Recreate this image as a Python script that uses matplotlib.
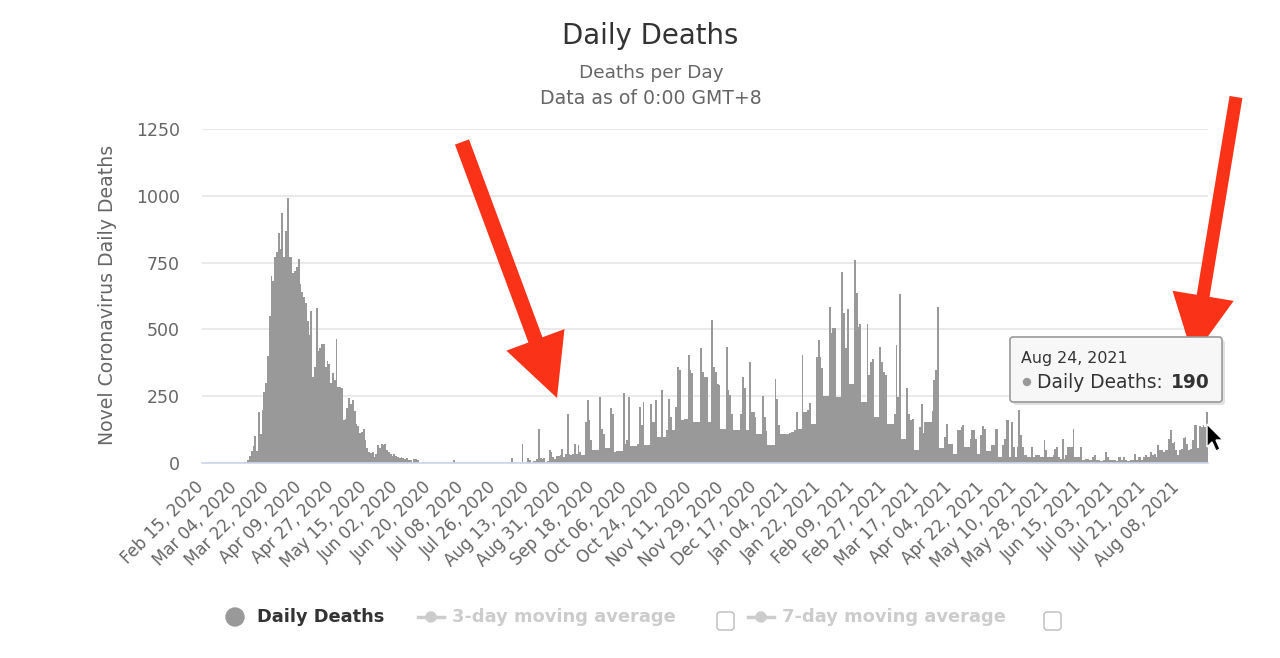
import matplotlib
matplotlib.use("Agg")
import matplotlib.pyplot as plt
import matplotlib.patches as mpatches
from matplotlib.transforms import Affine2D, ScaledTranslation
import pandas as pd

# ---------------- data ----------------
deaths = [
    0, 0, 0, 0, 0, 0, 0, 0, 0, 0, 0, 0, 0, 0, 0, 0, 0, 0, 0, 0, 0, 0, 0,
    5, 2, 10, 25, 45, 65, 100, 45, 190, 110,
    200, 265, 300, 400, 550, 700, 680, 770, 790, 860,
    800, 935, 770, 870, 990, 770, 770, 710, 720, 735,
    765, 670, 640, 620, 600, 530, 480, 570, 320, 360,
    580, 420, 430, 445, 445, 360, 380, 370, 300, 335,
    310, 465, 285, 285, 280, 160, 165, 205, 245, 222,
    235, 195, 145, 140, 112, 115, 128, 85, 55, 42,
    36, 40, 22, 35, 66, 55, 72, 66, 72, 47,
    40, 35, 28, 35, 28, 22, 20, 22, 20, 16,
    20, 12, 10, 4, 16, 16, 10,
    0, 0, 0, 0, 0, 0, 0, 0, 0, 0, 0, 0, 0, 0, 0, 0, 0, 0, 0,
    12,
    0, 0, 0, 0, 0, 0, 0, 0, 0, 0, 0, 0, 0, 0, 0, 0, 0, 0, 0, 0,
    0, 0, 0, 0, 0, 0, 0, 0, 0, 0, 0,
    20, 0, 0, 0, 0, 0, 70, 0, 0,
    17, 10, 0, 8, 8, 15, 129, 18, 15, 20, 5, 8,
    47, 41, 22, 16, 25, 25, 29, 54, 22, 35,
    185, 32, 29, 32, 72, 32, 66, 41, 29, 29,
    154, 237, 160, 85, 50, 50, 50, 50, 247, 129,
    110, 56, 56, 56, 204, 185, 41, 44, 44, 44,
    44, 262, 72, 85, 247, 62, 62, 62, 62, 72,
    210, 141, 229, 66, 66, 66, 222, 154, 154, 235,
    97, 97, 272, 97, 97, 122, 241, 172, 122, 122,
    210, 360, 347, 160, 160, 166, 166, 404, 347, 335,
    154, 154, 154, 154, 429, 341, 322, 322, 154, 154,
    535, 360, 341, 297, 291, 129, 129, 129, 435, 272,
    254, 185, 122, 122, 122, 122, 185, 322, 279, 122,
    122, 379, 191, 191, 172, 110, 110, 110, 250, 172,
    120, 66, 66, 66, 66, 316, 241, 141, 110, 110,
    110,
    110, 110, 112, 116, 116, 122, 191, 129, 129, 404,
    191, 191, 200, 225, 147, 147, 147, 397, 460, 397,
    357, 251, 251, 251, 582, 485, 507, 507, 247, 247,
    247, 716, 560, 429, 575, 295, 295, 295, 760, 637,
    510, 520, 229, 229, 229, 520, 329, 379, 391, 172,
    172, 172, 435, 379, 341, 329, 147, 147, 147, 147,
    185, 441, 247, 632, 91, 91, 91, 282, 185, 160,
    166, 47, 47, 47, 135, 220, 112, 154, 154, 154,
    154, 195, 310, 347, 582, 56, 56, 56, 97, 147,
    72, 72, 72, 35, 35, 122, 122, 135, 141, 60,
    60, 60, 91, 122, 122, 91, 35, 35, 104, 139,
    129, 44, 44, 44, 66, 66, 129, 129, 22, 22,
    66, 91, 160, 160, 22, 154, 60, 22, 60, 197,
    104, 60, 29, 29, 22, 22, 60, 22, 29, 29,
    29, 22, 22, 85, 47, 22, 22, 22, 29, 54,
    60, 22, 14, 91, 14, 29, 60, 60, 60, 129,
    22, 22, 22, 60, 10, 10, 14, 14, 10, 10,
    22, 29, 10, 10, 6, 6, 10, 41, 22, 10,
    10, 10, 10, 6, 22, 22, 10, 22, 10, 6,
    6, 10, 10, 35, 10, 22, 22, 10, 22, 29,
    22, 22, 41, 29, 35, 22, 69, 47, 47, 41,
    47, 47, 91, 122, 76, 79, 47, 29, 47, 54,
    94, 97, 72, 47, 54, 85, 141, 141, 56, 139,
    135, 141, 135, 190,
]
dates = pd.date_range("2020-02-15", periods=len(deaths), freq="D")

tick_labels = [
    "Feb 15, 2020", "Mar 04, 2020", "Mar 22, 2020", "Apr 09, 2020", "Apr 27, 2020",
    "May 15, 2020", "Jun 02, 2020", "Jun 20, 2020", "Jul 08, 2020", "Jul 26, 2020",
    "Aug 13, 2020", "Aug 31, 2020", "Sep 18, 2020", "Oct 06, 2020", "Oct 24, 2020",
    "Nov 11, 2020", "Nov 29, 2020", "Dec 17, 2020", "Jan 04, 2021", "Jan 22, 2021",
    "Feb 09, 2021", "Feb 27, 2021", "Mar 17, 2021", "Apr 04, 2021", "Apr 22, 2021",
    "May 10, 2021", "May 28, 2021", "Jun 15, 2021", "Jul 03, 2021", "Jul 21, 2021",
    "Aug 08, 2021",
]
tick_step = 18
y_ticks = [0, 250, 500, 750, 1000, 1250]

# ---------------- figure ----------------
W, H = 1280, 658
fig = plt.figure(figsize=(W / 100, H / 100), dpi=100)
fig.patch.set_facecolor("white")
PX = Affine2D().scale(1 / 100.0, -1 / 100.0).translate(0, H / 100.0) + fig.dpi_scale_trans


def ft(x, y, s, **kw):
    return fig.text(x / W, 1 - y / H, s, **kw)


ax = fig.add_axes([202 / W, (H - 463) / H, (1208 - 202) / W, 334 / H])
xs = list(range(len(deaths)))
ax.bar(xs, deaths, width=1.0, color="#999999", linewidth=0)
ax.set_xlim(-0.5, len(deaths) - 0.5)
ax.set_ylim(0, 1250)
ax.set_yticks(y_ticks)
ax.set_yticklabels([str(v) for v in y_ticks])
ax.yaxis.grid(True, color="#e6e6e6", linewidth=1.2)
ax.set_axisbelow(True)
for s in ["top", "right", "left"]:
    ax.spines[s].set_visible(False)
ax.spines["bottom"].set_color("#ccd6eb")
ax.spines["bottom"].set_linewidth(1.2)
ax.tick_params(axis="y", length=0, pad=16, labelsize=12.5, labelcolor="#666666")
ax.set_xticks([i * tick_step for i in range(len(tick_labels))])
ax.set_xticklabels(tick_labels, rotation=45, ha="right", va="top",
                   rotation_mode="anchor")
ax.tick_params(axis="x", length=0, pad=11, labelsize=12, labelcolor="#666666")
shift = ScaledTranslation(-8 / 100.0, 0, fig.dpi_scale_trans)
for lbl in ax.get_xticklabels():
    lbl.set_transform(lbl.get_transform() + shift)

# titles
ft(650, 36, "Daily Deaths", ha="center", va="center", fontsize=19.8, color="#333333")
ft(651, 73, "Deaths per Day", ha="center", va="center", fontsize=13.3, color="#666666")
ft(651, 98, "Data as of 0:00 GMT+8", ha="center", va="center", fontsize=13.6,
   color="#666666")
ft(108, 295, "Novel Coronavirus Daily Deaths", rotation=90, ha="center", va="center",
   fontsize=13.6, color="#666666")

# legend
fig.patches.append(mpatches.Circle((235, 617), 9, transform=PX, color="#999999"))
ft(257, 617, "Daily Deaths", ha="left", va="center", fontsize=12.8,
   fontweight="bold", color="#333333")
for x0, txt, xb in [(418, "3-day moving average", 717), (748, "7-day moving average", 1044)]:
    fig.lines.append(plt.Line2D([x0, x0 + 26], [617, 617], transform=PX,
                                color="#cccccc", linewidth=2.5))
    fig.patches.append(mpatches.Circle((x0 + 13, 617), 5, transform=PX, color="#cccccc"))
    ft(x0 + 34, 617, txt, ha="left", va="center", fontsize=12.9,
       fontweight="bold", color="#cccccc")
    fig.patches.append(mpatches.FancyBboxPatch((xb, 612), 17, 18,
                                               boxstyle="round,pad=0,rounding_size=3",
                                               transform=PX, facecolor="white",
                                               edgecolor="#bbbbbb", linewidth=1))

# red arrows
red = "#f93218"
for (x0, y0, x1, y1, w) in [(462, 142, 557, 398, 15), (1236, 97, 1193, 357, 13)]:
    fig.patches.append(mpatches.FancyArrow(x0, y0, x1 - x0, y1 - y0, width=w,
                                           head_width=62, head_length=62,
                                           length_includes_head=True,
                                           transform=PX, color=red, linewidth=0))

# tooltip
fig.patches.append(mpatches.FancyBboxPatch((1013, 340), 212, 65,
                                           boxstyle="round,pad=0,rounding_size=3",
                                           transform=PX, facecolor="#000000",
                                           alpha=0.12, linewidth=0))
fig.patches.append(mpatches.FancyBboxPatch((1010, 337), 212, 65,
                                           boxstyle="round,pad=0,rounding_size=3",
                                           transform=PX, facecolor="#f7f7f7",
                                           edgecolor="#9a9a9a", linewidth=1.2))
ft(1021, 358, "Aug 24, 2021", ha="left", va="center", fontsize=11.4, color="#333333")
fig.patches.append(mpatches.Circle((1027, 382), 3.5, transform=PX, color="#999999"))
ft(1037, 382, "Daily Deaths:", ha="left", va="center", fontsize=13.4, color="#333333")
ft(1171, 382, "190", ha="left", va="center", fontsize=13.4, fontweight="bold",
   color="#333333")

# mouse cursor
cursor = [(1207, 424), (1207, 447), (1212, 442), (1216, 451), (1220, 449),
          (1216, 440), (1223, 440)]
fig.patches.append(mpatches.Polygon(cursor, closed=True, transform=PX,
                                    facecolor="black", edgecolor="white", linewidth=1))

fig.savefig("out.png", dpi=100)
